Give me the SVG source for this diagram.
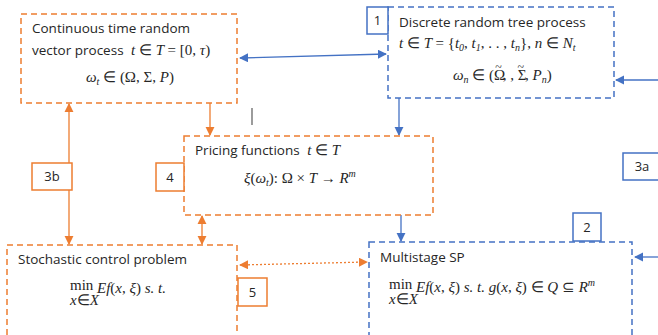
<svg xmlns="http://www.w3.org/2000/svg" width="658" height="335" viewBox="0 0 658 335">
<style>
.ob{fill:none;stroke:#ED7D31;stroke-width:1.5;stroke-dasharray:6 4}
.bb{fill:none;stroke:#4472C4;stroke-width:1.5;stroke-dasharray:6 4}
.ol{fill:#fff;stroke:#ED7D31;stroke-width:1.5}
.bl{fill:#fff;stroke:#4472C4;stroke-width:1.5}
.t{font-family:"Open Sans","Liberation Sans",sans-serif;font-size:13.5px;fill:#262626}
.m{font-family:"Liberation Serif",serif;font-size:15px;fill:#262626;font-style:italic}
.mu{font-style:normal}
.sub{font-size:10px}
.lt{font-family:"Open Sans","Liberation Sans",sans-serif;font-size:13px;fill:#262626;text-anchor:middle}
.oa{stroke:#ED7D31;stroke-width:1.3;fill:none}
.ba{stroke:#4472C4;stroke-width:1.3;fill:none}
</style>
<defs>
<marker id="oh" viewBox="0 0 10 10" refX="9" refY="5" markerWidth="7" markerHeight="7" orient="auto-start-reverse"><path d="M0,0 L10,5 L0,10 z" fill="#ED7D31"/></marker>
<marker id="bh" viewBox="0 0 10 10" refX="9" refY="5" markerWidth="7" markerHeight="7" orient="auto-start-reverse"><path d="M0,0 L10,5 L0,10 z" fill="#4472C4"/></marker>
</defs>
<rect width="658" height="335" fill="#fff"/>
<g id="connectors">
<line class="ba" x1="240" y1="58" x2="386" y2="54" marker-start="url(#bh)" marker-end="url(#bh)"/>
<line class="ba" x1="658" y1="80" x2="616" y2="80" marker-end="url(#bh)"/>
<line class="ba" x1="658" y1="257" x2="635" y2="257" marker-end="url(#bh)"/>
<line class="oa" x1="210" y1="103" x2="210" y2="135" marker-end="url(#oh)"/>
<line class="ba" x1="399" y1="98" x2="399" y2="135" marker-end="url(#bh)"/>
<line class="ba" x1="401" y1="215" x2="401" y2="241" marker-end="url(#bh)"/>
<line class="oa" x1="202" y1="216" x2="202" y2="244" marker-start="url(#oh)" marker-end="url(#oh)"/>
<line class="oa" x1="69" y1="104" x2="69" y2="244" marker-start="url(#oh)" marker-end="url(#oh)"/>
<line class="oa" x1="240" y1="265" x2="367" y2="262" stroke-dasharray="2 2" marker-start="url(#oh)" marker-end="url(#oh)"/>
<line x1="252" y1="108" x2="252" y2="125" stroke="#595959" stroke-width="1.2"/>
</g>
<g id="continuous">
<rect class="ob" x="21" y="14" width="216" height="89"/>
<text class="t" x="32" y="33">Continuous time random</text>
<text x="32" y="55"><tspan class="t">vector process </tspan><tspan class="m" dx="4">t <tspan class="mu">∈</tspan> T <tspan class="mu">= [0,</tspan> τ<tspan class="mu">)</tspan></tspan></text>
<text class="m" x="86" y="82">ω<tspan class="sub" dy="3">t</tspan><tspan class="mu" dy="-3"> ∈ (Ω, Σ,</tspan> P<tspan class="mu">)</tspan></text>
</g>
<g id="discrete">
<rect class="bb" x="388" y="7" width="226" height="91"/>
<text class="t" x="399" y="27">Discrete random tree process</text>
<text class="m" x="399" y="48">t <tspan class="mu">∈</tspan> T <tspan class="mu">= {</tspan>t<tspan class="sub" dy="3">0</tspan><tspan class="mu" dy="-3">,</tspan> t<tspan class="sub" dy="3">1</tspan><tspan class="mu" dy="-3">, . . ,</tspan> t<tspan class="sub" dy="3">n</tspan><tspan class="mu" dy="-3">},</tspan> n <tspan class="mu">∈</tspan> N<tspan class="sub" dy="3">t</tspan></text>
<text class="m" x="453" y="80">ω<tspan class="sub" dy="3">n</tspan><tspan class="mu" dy="-3"> ∈ (Ω</tspan><tspan class="mu" font-size="12" dx="-10" dy="-9">~</tspan><tspan class="mu" dx="1" dy="9">, , Σ</tspan><tspan class="mu" font-size="12" dx="-9" dy="-9">~</tspan><tspan class="mu" dx="1" dy="9">,</tspan> P<tspan class="sub" dy="3">n</tspan><tspan class="mu" dy="-3">)</tspan></text>
</g>
<g id="label1"><rect class="bl" x="367" y="7" width="21" height="27"/><text class="lt" x="377.5" y="25">1</text></g>
<g id="pricing">
<rect class="ob" x="184" y="136" width="249" height="79"/>
<text x="195" y="155"><tspan class="t">Pricing functions </tspan><tspan class="m" dx="4">t <tspan class="mu">∈</tspan> T</tspan></text>
<text class="m" x="244" y="183">ξ<tspan class="mu">(</tspan>ω<tspan class="sub" dy="3">t</tspan><tspan class="mu" dy="-3">): Ω × </tspan>T <tspan class="mu">→ </tspan>R<tspan class="sub" dy="-6">m</tspan></text>
</g>
<g id="label4"><rect class="ol" x="156" y="163" width="28" height="28"/><text class="lt" x="170" y="182">4</text></g>
<g id="label3b"><rect class="ol" x="32" y="163" width="40" height="27"/><text class="lt" x="52" y="181">3b</text></g>
<g id="label3a"><rect class="bl" x="623" y="153" width="40" height="27"/><text class="lt" x="642" y="171">3a</text></g>
<g id="stochastic">
<rect class="ob" x="7" y="245" width="230" height="95"/>
<text class="t" x="18" y="264">Stochastic control problem</text>
<text class="m" x="70" y="290"><tspan class="mu">min</tspan></text>
<text class="m" x="70" y="305" font-size="9.5">x<tspan class="mu">∈</tspan>X</text>
<text class="m" x="97" y="293">Ef<tspan class="mu">(</tspan>x<tspan class="mu">,</tspan> ξ<tspan class="mu">)</tspan> s. t.</text>
</g>
<g id="label5"><rect class="ol" x="238" y="278" width="29" height="28"/><text class="lt" x="252.5" y="297">5</text></g>
<g id="multistage">
<rect class="bb" x="369" y="242" width="263" height="95"/>
<text class="t" x="380" y="262">Multistage SP</text>
<text class="m" x="389" y="289"><tspan class="mu">min</tspan></text>
<text class="m" x="389" y="304" font-size="9.5">x<tspan class="mu">∈</tspan>X</text>
<text class="m" x="416" y="292">Ef<tspan class="mu">(</tspan>x<tspan class="mu">,</tspan> ξ<tspan class="mu">)</tspan> s. t. g<tspan class="mu">(</tspan>x<tspan class="mu">,</tspan> ξ<tspan class="mu">) ∈ </tspan>Q <tspan class="mu">⊆ </tspan>R<tspan class="sub" dy="-6">m</tspan></text>
</g>
<g id="label2"><rect class="bl" x="573" y="213" width="28" height="28"/><text class="lt" x="587" y="232">2</text></g>
</svg>
